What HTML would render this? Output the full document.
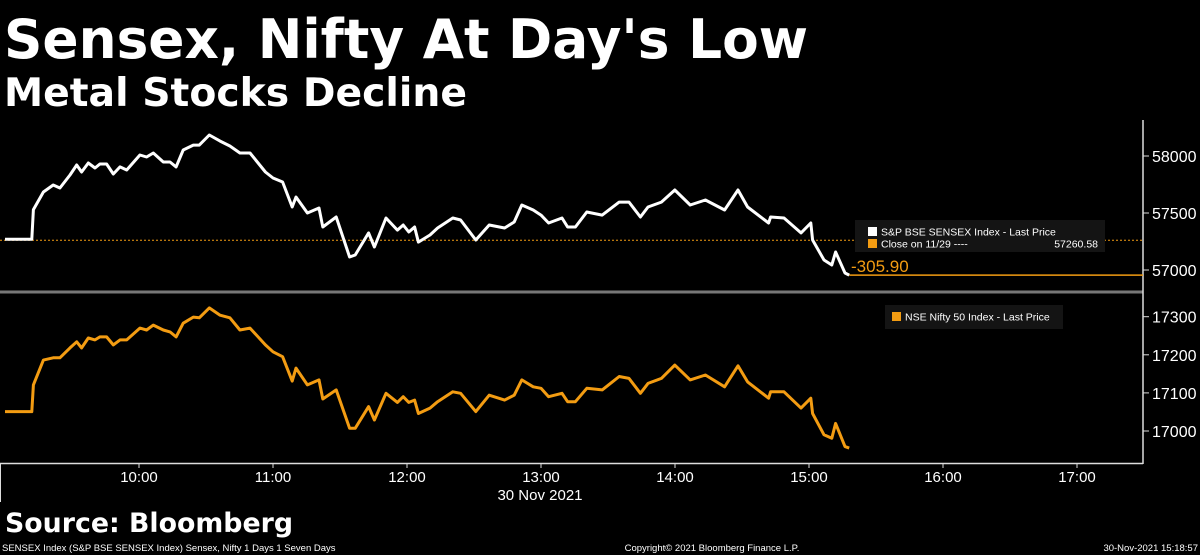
<!DOCTYPE html>
<html><head><meta charset="utf-8"><style>
html,body{margin:0;padding:0;background:#000;width:1200px;height:555px;overflow:hidden}
svg{display:block}
text{font-family:"Liberation Sans",sans-serif}
.bt{font-family:"DejaVu Sans","Liberation Sans",sans-serif;font-weight:bold}
</style></head><body>
<svg id="c" width="1200" height="555" viewBox="0 0 1200 555">
<text class="bt" x="4" y="58" fill="#fff" font-size="54" textLength="804" lengthAdjust="spacingAndGlyphs">Sensex, Nifty At Day's Low</text>
<text class="bt" x="4" y="106" fill="#fff" font-size="39" textLength="463" lengthAdjust="spacingAndGlyphs">Metal Stocks Decline</text>
<line x1="0" y1="292" x2="1143" y2="292" stroke="#777" stroke-width="3"/>
<line x1="1143" y1="120" x2="1143" y2="464" stroke="#ddd" stroke-width="1.5"/>
<line x1="0" y1="463.5" x2="1143" y2="463.5" stroke="#ddd" stroke-width="1.5"/>
<line x1="0.5" y1="463" x2="0.5" y2="502" stroke="#ddd" stroke-width="1"/>
<g id="axes"></g>
<g id="series"></g>
<rect x="855" y="220" width="250" height="32" fill="#141414"/>
<rect x="868" y="227" width="9" height="9" fill="#fff"/>
<text x="881" y="235.5" fill="#fff" font-size="10.5">S&amp;P BSE SENSEX Index - Last Price</text>
<rect x="868" y="239" width="9" height="9" fill="#f39c12"/>
<text x="881" y="247.5" fill="#fff" font-size="10.5">Close on 11/29 ----</text>
<text x="1098" y="247.5" fill="#fff" font-size="10.5" text-anchor="end">57260.58</text>
<text x="851" y="272" fill="#f39c12" font-size="17">-305.90</text>
<rect x="885" y="305" width="178" height="24" fill="#141414"/>
<rect x="892" y="312" width="9" height="9" fill="#f39c12"/>
<text x="905" y="320.5" fill="#fff" font-size="10.5">NSE Nifty 50 Index - Last Price</text>
<text x="540" y="500" fill="#fff" font-size="15" text-anchor="middle">30 Nov 2021</text>
<text class="bt" x="5" y="532" fill="#fff" font-size="27" textLength="288" lengthAdjust="spacingAndGlyphs">Source: Bloomberg</text>
<text x="2" y="551" fill="#fff" font-size="9.5">SENSEX Index (S&amp;P BSE SENSEX Index) Sensex, Nifty 1 Days 1 Seven Days</text>
<text x="712" y="551" fill="#fff" font-size="9.5" text-anchor="middle">Copyright© 2021 Bloomberg Finance L.P.</text>
<text x="1198" y="551" fill="#fff" font-size="9.5" text-anchor="end">30-Nov-2021 15:18:57</text>
</svg>
<script>
const times=["9:00","9:12","9:12.7","9:17.2","9:21.6","9:24.6","9:29.1","9:32.1","9:34.3","9:37.3","9:40.3","9:42.5","9:45.5","9:48.5","9:51.5","9:54.5","10:00.4","10:03.4","10:06.4","10:10.9","10:13.9","10:16.6","10:19.8","10:24.3","10:27","10:31.5","10:36.3","10:40.7","10:45.2","10:49.7","10:56.6","11:00","11:04.3","11:08.6","11:10.3","11:15.4","11:20.6","11:22.3","11:28.3","11:34.3","11:36.8","11:42.8","11:45.4","11:50.6","11:55.7","11:58.3","12:00.8","12:03.4","12:05.1","12:10.3","12:13.7","12:20.5","12:24","12:30.8","12:36.8","12:43.7","12:48","12:51.4","12:56.5","13:00","13:03.4","13:09.4","13:11.9","13:15.4","13:20.5","13:27.4","13:35","13:39.4","13:44.5","13:47.9","13:53.9","13:59.9","14:06.8","14:13.6","14:22.2","14:28.2","14:32.5","14:41.9","14:42.8","14:48.8","14:56.4","15:00.8","15:01.6","15:06.7","15:10.2","15:11.9","15:16.1","15:18"];
const sensex=[57270,57270,57530,57684,57746,57719,57833,57921,57860,57939,57895,57930,57930,57842,57904,57877,58009,57991,58026,57947,57947,57904,58053,58096,58096,58184,58131,58088,58026,58026,57860,57807,57772,57553,57640,57500,57544,57377,57465,57114,57132,57325,57202,57456,57350,57395,57333,57377,57245,57307,57368,57456,57439,57263,57395,57368,57421,57570,57526,57482,57412,57456,57377,57377,57509,57482,57596,57596,57465,57553,57596,57702,57570,57614,57526,57702,57553,57412,57465,57456,57325,57412,57263,57088,57044,57158,56974,56955];
const nifty=[17051,17051,17121,17186,17192,17192,17218,17234,17218,17244,17239,17247,17247,17226,17239,17239,17270,17265,17278,17265,17260,17247,17283,17299,17297,17323,17304,17297,17265,17270,17226,17208,17195,17131,17165,17121,17134,17084,17108,17007,17007,17064,17029,17099,17075,17090,17075,17081,17046,17060,17077,17103,17099,17051,17094,17081,17094,17134,17116,17112,17090,17099,17077,17077,17112,17108,17143,17138,17099,17125,17138,17173,17134,17147,17116,17171,17129,17086,17103,17103,17060,17086,17046,16990,16981,17020,16959,16955];
const sensexTicks=[57000,57500,58000];
const niftyTicks=[17000,17100,17200,17300];
const xTicks=["10:00","11:00","12:00","13:00","14:00","15:00","16:00","17:00"];
const prevCloseSensex=57260.58;
const NS="http://www.w3.org/2000/svg";
function mins(t){const p=t.split(":");return +p[0]*60+ +p[1];}
function xS(t){return Math.max(0,139+(mins(t)-600)*134/60);}
function ySx(v){return 270-(v-57000)*0.114;}
function yNf(v){return 431-(v-17000)*0.381;}
function mk(tag,attrs,parent){const e=document.createElementNS(NS,tag);for(const k in attrs)e.setAttribute(k,attrs[k]);parent.appendChild(e);return e;}
const ax=document.getElementById('axes'),se=document.getElementById('series');
let cl=mk('line',{x1:0,x2:1143,y1:ySx(prevCloseSensex),y2:ySx(prevCloseSensex),stroke:'#f39c12','stroke-width':1,'stroke-dasharray':'2,2'},ax);


let ll=mk('line',{x1:xS(times[times.length-1]),x2:1143,y1:ySx(sensex[sensex.length-1]),y2:ySx(sensex[sensex.length-1]),stroke:'#f39c12','stroke-width':1.5},ax);


sensexTicks.forEach(v=>{const y=ySx(v);
 const l=mk('line',{x1:1143,x2:1149,y1:y,y2:y,stroke:'#ddd'},ax);
 
 
 const t=mk('text',{x:1152,y:y+6,fill:'#fff','font-size':16},ax);t.textContent=v;
 
 });
niftyTicks.forEach(v=>{const y=yNf(v);
 const l=mk('line',{x1:1143,x2:1149,y1:y,y2:y,stroke:'#ddd'},ax);
 
 
 const t=mk('text',{x:1152,y:y+6,fill:'#fff','font-size':16},ax);t.textContent=v;
 
 });
xTicks.forEach(s=>{const x=xS(s);
 const l=mk('line',{x1:x,x2:x,y1:463,y2:468,stroke:'#ddd'},ax);
 
 
 const t=mk('text',{x:x,y:482,fill:'#fff','font-size':15,'text-anchor':'middle'},ax);t.textContent=s;
 
 });
function path(vals,yf,color,name){const d=vals.map((v,i)=>(i?'L':'M')+xS(times[i]).toFixed(1)+','+yf(v).toFixed(1)).join('');
 const p=mk('path',{d:d,fill:'none',stroke:color,'stroke-width':3,'stroke-linejoin':'round'},se);
 
 }
path(sensex,ySx,'#fff','sensex-line');
path(nifty,yNf,'#f39c12','nifty-line');
</script>
</body></html>
